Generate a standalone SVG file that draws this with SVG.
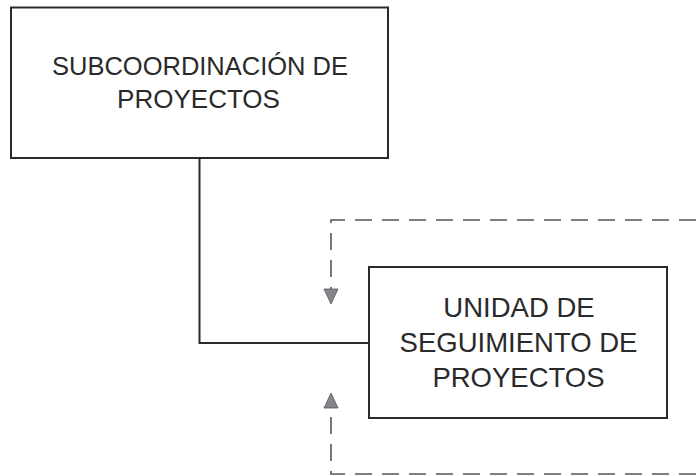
<svg xmlns="http://www.w3.org/2000/svg" width="696" height="476" viewBox="0 0 696 476">
<style>
.box{fill:#fff;stroke:#2a2a2a;stroke-width:2}
.lbl{font-family:"Liberation Sans",Arial,sans-serif;font-size:26px;fill:#2a2a2a;text-anchor:middle}
.lbl2{font-size:27.5px}
.solid{fill:none;stroke:#2a2a2a;stroke-width:2}
.dash{fill:none;stroke:#555;stroke-width:1.6;stroke-dasharray:17 10}
.head{fill:#85858c;stroke:#555;stroke-width:0.8}
</style>
<rect width="696" height="476" fill="#fff"/>
<g id="connectors">
<path class="solid" d="M199.5 158 V343 H369"/>
<path class="dash" d="M696 220 H331 V290"/>
<path class="dash" d="M696 474 H331 V407"/>
<polygon class="head" points="324,289 338,289 331,304"/>
<polygon class="head" points="324,408 338,408 331,393"/>
</g>
<g id="subcoordinacion">
<rect class="box" x="11" y="7.5" width="377" height="150.5"/>
<text class="lbl" x="200" y="75" textLength="296" lengthAdjust="spacingAndGlyphs">SUBCOORDINACIÓN DE</text>
<text class="lbl" x="198.5" y="108">PROYECTOS</text>
</g>
<g id="unidad">
<rect class="box" x="369" y="267" width="298" height="151"/>
<text class="lbl lbl2" x="519" y="317">UNIDAD DE</text>
<text class="lbl lbl2" x="518.5" y="352">SEGUIMIENTO DE</text>
<text class="lbl lbl2" x="518.5" y="387">PROYECTOS</text>
</g>
</svg>
